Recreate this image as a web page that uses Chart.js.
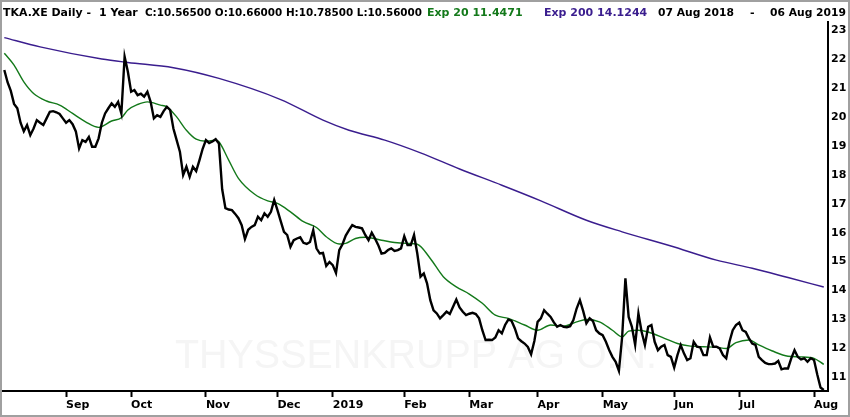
<!DOCTYPE html>
<html>
<head>
<meta charset="utf-8">
<script src="https://cdn.jsdelivr.net/npm/chart.js@4/dist/chart.umd.min.js"></script>
<style>
  body { margin: 0; background: #fff; }
  canvas { display: block; }
</style>
</head>
<body>
<canvas id="chart" width="850" height="417"></canvas>
<script>
// daily closes, 07 Aug 2018 - 06 Aug 2019 (one value per trading day)
const closes = [
  21.62, 21.2, 20.9, 20.45, 20.3, 19.8, 19.5, 19.72, 19.37, 19.6,
  19.89, 19.8, 19.72, 19.95, 20.18, 20.2, 20.16, 20.1, 19.95, 19.8,
  19.89, 19.75, 19.5, 18.91, 19.2, 19.14, 19.31, 18.97, 18.97, 19.26,
  19.8, 20.12, 20.3, 20.47, 20.35, 20.52, 20.12, 22.08, 21.56, 20.87,
  20.93, 20.75, 20.8, 20.7, 20.87, 20.52, 19.95, 20.06, 20.0, 20.2,
  20.35, 20.24, 19.6, 19.2, 18.8, 17.99, 18.28, 17.93, 18.28, 18.13,
  18.5, 18.9, 19.2, 19.1, 19.15, 19.23, 19.08, 17.5, 16.85, 16.8,
  16.78, 16.65, 16.5, 16.26, 15.78, 16.1, 16.2, 16.26, 16.55, 16.43,
  16.67, 16.55, 16.72, 17.13, 16.78, 16.4, 16.03, 15.92, 15.51, 15.74,
  15.8, 15.84, 15.65, 15.61, 15.68, 16.09, 15.46, 15.28, 15.3, 14.85,
  14.99, 14.88, 14.61, 15.4, 15.6, 15.9, 16.09, 16.26, 16.2, 16.18,
  16.15, 15.92, 15.74, 16.0, 15.8, 15.57, 15.28, 15.3, 15.4, 15.46,
  15.37, 15.4, 15.46, 15.88, 15.57, 15.57, 15.92, 15.28, 14.48, 14.59,
  14.25, 13.67, 13.32, 13.21, 13.04, 13.15, 13.27, 13.19, 13.44, 13.69,
  13.42, 13.27, 13.15, 13.2, 13.23, 13.19, 13.04, 12.63, 12.29, 12.3,
  12.29, 12.38, 12.63, 12.52, 12.81, 13.0, 12.95, 12.69, 12.35, 12.25,
  12.17, 12.05, 11.8, 12.26, 12.92, 13.04, 13.32, 13.2, 13.09, 12.9,
  12.75, 12.81, 12.75, 12.73, 12.77, 12.98, 13.38, 13.67, 13.3, 12.87,
  13.04, 12.95, 12.63, 12.52, 12.46, 12.23, 11.95, 11.71, 11.54, 11.23,
  12.4, 14.42, 13.09, 12.75, 12.12, 13.21, 12.57, 12.12, 12.75, 12.81,
  12.23, 11.94, 12.06, 12.12, 11.77, 11.71, 11.34, 11.77, 12.12, 11.83,
  11.6, 11.66, 12.23, 12.06, 12.04, 11.77, 11.77, 12.38, 12.06, 12.06,
  12.0, 11.77, 11.66, 12.23, 12.63, 12.81, 12.89, 12.63, 12.57, 12.35,
  12.17, 12.12, 11.71, 11.6, 11.5, 11.46, 11.46, 11.48, 11.57, 11.28,
  11.31, 11.31, 11.66, 11.94, 11.71, 11.62, 11.66, 11.54, 11.66, 11.6,
  11.1, 10.65, 10.565
];

// Exp 20 at these trading days
const ema20Days = [0, 3, 6, 9, 13, 17, 21, 25, 29, 33, 36, 38, 41, 44, 48, 50, 53, 56, 59, 62,
  65, 66, 69, 72, 77, 81, 84, 88, 92, 96, 99, 103, 105, 108, 111, 116, 120, 124, 127, 131,
  135, 139, 143, 147, 151, 155, 160, 164, 168, 172, 176, 179, 183, 187, 190, 192, 195, 198, 203, 207,
  211, 215, 219, 222, 225, 229, 232, 236, 241, 245, 249, 252];
const ema20 = [22.2, 21.79, 21.21, 20.81, 20.55, 20.41, 20.12, 19.83, 19.64, 19.86, 19.97, 20.24, 20.43, 20.52, 20.41, 20.35, 20.0, 19.54, 19.23, 19.16,
  19.2, 19.14, 18.51, 17.88, 17.33, 17.1, 17.01, 16.72, 16.38, 16.18, 15.86, 15.61, 15.63, 15.8, 15.84, 15.74, 15.66, 15.63, 15.6, 15.11,
  14.48, 14.13, 13.88, 13.56, 13.15, 13.04, 12.81, 12.63, 12.81, 12.77, 12.92, 13.0, 12.92, 12.63, 12.4, 12.6, 12.63, 12.57, 12.35, 12.17,
  12.08, 12.06, 12.04, 12.0, 12.2, 12.29, 12.12, 11.92, 11.73, 11.71, 11.66, 11.447];

// Exp 200
const ema200Days = [0, 11, 30, 38, 52, 66, 85, 98, 106, 117, 128, 140, 153, 165, 179, 190, 205, 219, 230, 241, 252];
const ema200 = [22.74, 22.42, 22.0, 21.88, 21.7, 21.33, 20.6, 19.89, 19.54, 19.2, 18.76, 18.2, 17.64, 17.1, 16.43, 16.03, 15.54, 15.05, 14.77, 14.45, 14.124];

// month starts (trading day index) and labels
const monthIdx = [19, 39, 62, 84, 101, 123, 143, 164, 184, 206, 226, 249];
const monthLabels = ['Sep', 'Oct', 'Nov', 'Dec', '2019', 'Feb', 'Mar', 'Apr', 'May', 'Jun', 'Jul', 'Aug'];
const yTicks = [11, 12, 13, 14, 15, 16, 17, 18, 19, 20, 21, 22, 23];

const FONT = 'DejaVu Sans';
const axisFont = { family: FONT, size: 11, weight: 'bold' };

const titleParts = [
  { text: 'TKA.XE Daily -', x: 3, w: 88, color: '#000' },
  { text: '1 Year', x: 99, w: 40, color: '#000' },
  { text: 'C:10.56500 O:10.66000 H:10.78500 L:10.56000', x: 145, w: 277, color: '#000' },
  { text: 'Exp 20 11.4471', x: 427, w: 110, color: '#13791a' },
  { text: 'Exp 200 14.1244', x: 544, w: 106, color: '#3a1d8e' },
  { text: '07 Aug 2018', x: 658, w: 76, color: '#000' },
  { text: '-', x: 750, w: 8, color: '#000' },
  { text: '06 Aug 2019', x: 770, w: 76, color: '#000' }
];

const decor = {
  id: 'decor',
  beforeDraw(chart) {
    const ctx = chart.ctx;
    ctx.save();
    ctx.fillStyle = '#fff';
    ctx.fillRect(0, 0, chart.width, chart.height);
    ctx.restore();
  },
  beforeDatasetsDraw(chart) {
    const ctx = chart.ctx;
    ctx.save();
    ctx.font = '40px "Liberation Sans"';
    ctx.fillStyle = '#f5f5f5';
    ctx.textBaseline = 'alphabetic';
    ctx.fillText('THYSSENKRUPP AG O.N.', 175, 368, 482);
    ctx.restore();
  },
  afterDraw(chart) {
    const ctx = chart.ctx;
    ctx.save();
    ctx.font = 'bold 11px "' + FONT + '"';
    ctx.textBaseline = 'alphabetic';
    titleParts.forEach(p => {
      ctx.fillStyle = p.color;
      ctx.fillText(p.text, p.x, 16, p.w);
    });
    ctx.strokeStyle = '#a0a0a0';
    ctx.lineWidth = 2;
    ctx.strokeRect(1, 1, chart.width - 2, chart.height - 2);
    ctx.restore();
  }
};

new Chart(document.getElementById('chart'), {
  type: 'line',
  data: {
    datasets: [
      {
        label: 'TKA.XE',
        data: closes.map((v, i) => ({ x: i, y: v })),
        borderColor: '#000',
        borderWidth: 2.4,
        pointRadius: 0,
        tension: 0
      },
      {
        label: 'Exp 20',
        data: ema20Days.map((d, i) => ({ x: d, y: ema20[i] })),
        borderColor: '#13791a',
        borderWidth: 1.4,
        pointRadius: 0,
        cubicInterpolationMode: 'monotone'
      },
      {
        label: 'Exp 200',
        data: ema200Days.map((d, i) => ({ x: d, y: ema200[i] })),
        borderColor: '#3a1d8e',
        borderWidth: 1.4,
        pointRadius: 0,
        cubicInterpolationMode: 'monotone'
      }
    ]
  },
  options: {
    responsive: false,
    animation: false,
    devicePixelRatio: 1,
    layout: { padding: { left: 3, top: 22, right: 0, bottom: 0 } },
    plugins: {
      legend: { display: false },
      tooltip: { enabled: false }
    },
    scales: {
      x: {
        type: 'linear',
        min: -0.4,
        max: 253.3,
        afterBuildTicks: s => { s.ticks = monthIdx.map(v => ({ value: v })); },
        afterFit: s => { s.height = 26; },
        ticks: {
          callback: (v, i) => monthLabels[i],
          align: 'start',
          autoSkip: false,
          maxRotation: 0,
          padding: 2,
          color: '#000',
          font: axisFont
        },
        grid: { drawOnChartArea: false, drawTicks: true, tickLength: 6, tickWidth: 2, tickColor: '#000' },
        border: { color: '#000', width: 2 }
      },
      y: {
        position: 'right',
        min: 10.53,
        max: 23.28,
        afterBuildTicks: s => { s.ticks = yTicks.map(v => ({ value: v })); },
        afterFit: s => { s.width = 22; },
        ticks: { padding: 3, color: '#000', font: axisFont },
        grid: { drawOnChartArea: false, drawTicks: false },
        border: { color: '#000', width: 2 }
      }
    }
  },
  plugins: [decor]
});
</script>
</body>
</html>
